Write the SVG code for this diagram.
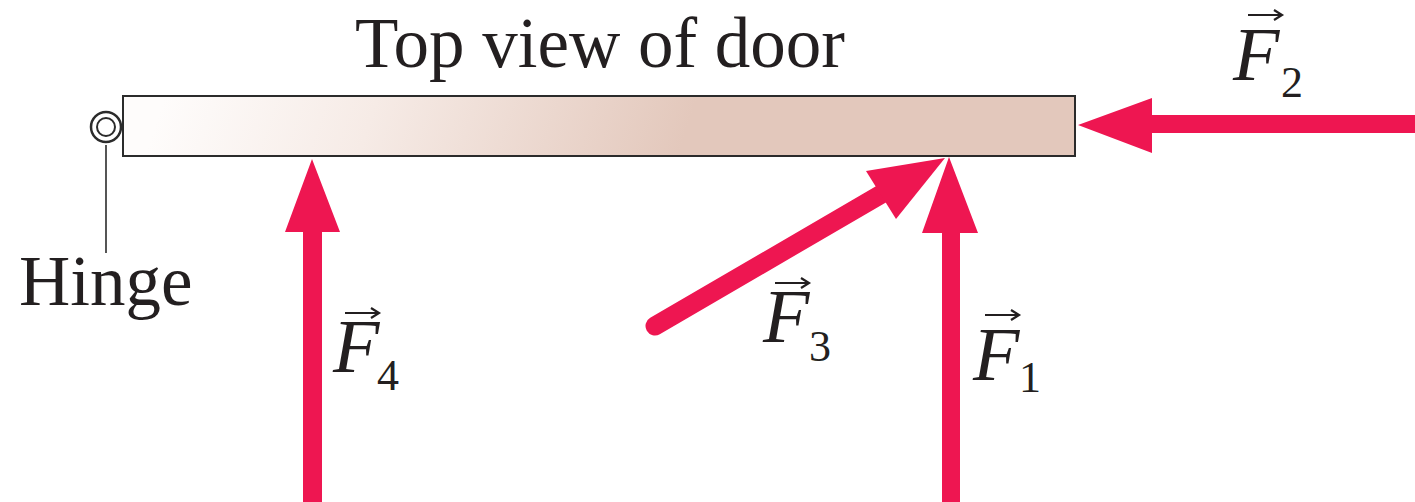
<svg xmlns="http://www.w3.org/2000/svg" width="1415" height="502" viewBox="0 0 1415 502">
<style>
.lbl{font-family:"Liberation Serif","Times New Roman",serif;font-size:71px;fill:#231f20}
.F{font-family:"Liberation Serif","Times New Roman",serif;font-style:italic;font-size:76px;fill:#231f20}
.sub{font-family:"Liberation Serif","Times New Roman",serif;font-size:44px;fill:#231f20}
.vec{stroke:#231f20;stroke-width:2.2;fill:none}
.force{fill:#ee1651}
</style>
<defs>
<linearGradient id="doorGrad" gradientUnits="userSpaceOnUse" x1="180" y1="50" x2="660" y2="210">
<stop offset="0" stop-color="#fefcfb"/>
<stop offset="0.4" stop-color="#f6ebe6"/>
<stop offset="1" stop-color="#e3c8bc"/>
</linearGradient>
<g id="vecArrow">
<line x1="0" y1="0" x2="34" y2="0" class="vec"/>
<polyline points="26,-5 34,0 26,5" class="vec"/>
</g>
</defs>

<g id="title">
<text x="355" y="67" class="lbl">Top view of door</text>
</g>

<g id="door">
<rect x="123" y="96" width="952" height="60" fill="url(#doorGrad)" stroke="#2b2b2b" stroke-width="2"/>
</g>

<g id="hinge">
<circle cx="106" cy="127" r="15" fill="#fff" stroke="#2b2b2b" stroke-width="2.5"/>
<circle cx="106" cy="127" r="9" fill="#fff" stroke="#2b2b2b" stroke-width="2"/>
<line x1="106" y1="145" x2="106" y2="253" stroke="#2b2b2b" stroke-width="1.6"/>
<text x="19" y="305" class="lbl">Hinge</text>
</g>

<g id="connectors">
<polygon id="F4arrow" class="force" points="303,502 303,232 285,232 312,159 340,232 322,232 322,502"/>
<polygon id="F1arrow" class="force" points="942,502 942,233 922,233 949,157 978,233 960,233 960,502"/>
<polygon id="F2arrow" class="force" points="1415,115 1152,115 1152,98 1078,125 1152,153 1152,133 1415,133"/>
<g id="F3arrow">
<line x1="655" y1="326" x2="885" y2="192" stroke="#ee1651" stroke-width="19" stroke-linecap="round"/>
<polygon class="force" points="866,171 945,158 896,219"/>
</g>
</g>

<g id="labelF2">
<text x="1233" y="80" class="F">F</text>
<text x="1281" y="97" class="sub">2</text>
<use href="#vecArrow" x="1248" y="15"/>
</g>
<g id="labelF4">
<text x="333" y="372" class="F">F</text>
<text x="377" y="390" class="sub">4</text>
<use href="#vecArrow" x="345" y="313"/>
</g>
<g id="labelF3">
<text x="763" y="342" class="F">F</text>
<text x="809" y="361" class="sub">3</text>
<use href="#vecArrow" x="775" y="283"/>
</g>
<g id="labelF1">
<text x="973" y="380" class="F">F</text>
<text x="1019" y="392" class="sub">1</text>
<use href="#vecArrow" x="985" y="315"/>
</g>
</svg>
